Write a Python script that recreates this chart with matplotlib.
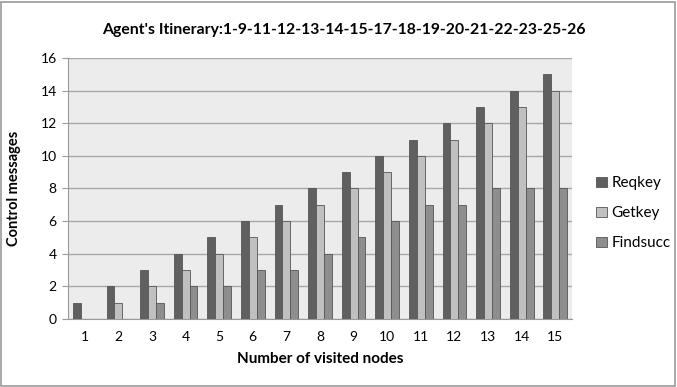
import matplotlib
matplotlib.use("Agg")
import matplotlib.pyplot as plt
import numpy as np
from matplotlib.patches import Rectangle

plt.rcParams['font.family'] = ['Lato', 'DejaVu Sans']

nodes = list(range(1, 16))
reqkey = [1, 2, 3, 4, 5, 6, 7, 8, 9, 10, 11, 12, 13, 14, 15]
getkey = [0, 1, 2, 3, 4, 5, 6, 7, 8, 9, 10, 11, 12, 13, 14]
findsucc = [0, 0, 1, 2, 2, 3, 3, 4, 5, 6, 7, 7, 8, 8, 8]
series_names = ["Reqkey", "Getkey", "Findsucc"]
colors = ["#606060", "#c0c0c0", "#8e8e8e"]

fig = plt.figure(figsize=(6.77, 3.87), dpi=100)
ax = fig.add_axes([0.1004, 0.176, 0.7446, 0.674])
ax.set_facecolor("#ececec")

x = np.arange(len(nodes))
w = 0.235
for i, (vals, name, c) in enumerate(zip([reqkey, getkey, findsucc], series_names, colors)):
    ax.bar(x + (i - 1) * w, vals, width=w, color=c, edgecolor="#555555",
           linewidth=0.6, label=name, zorder=3)

ax.set_xlim(-0.5, len(nodes) - 0.5)
ax.set_ylim(0, 16)
ax.set_yticks(range(0, 17, 2))
ax.set_xticks(x)
ax.set_xticklabels([str(n) for n in nodes])
ax.yaxis.grid(True, color="#a8a8a8", linewidth=1.0, zorder=0)
ax.set_axisbelow(True)
for s in ["top", "right"]:
    ax.spines[s].set_visible(False)
ax.spines["left"].set_color("#9a9a9a")
ax.spines["bottom"].set_color("#9a9a9a")
ax.tick_params(axis="y", length=4, color="#9a9a9a", labelsize=10, pad=4)
ax.tick_params(axis="x", length=0, labelsize=10, pad=9)

ax.set_xlabel("Number of visited nodes", fontsize=11, fontweight="bold", labelpad=6)
ax.set_ylabel("Control messages", fontsize=10.5, fontweight="bold", labelpad=14)
fig.text(0.508, 0.922, "Agent's Itinerary:1-9-11-12-13-14-15-17-18-19-20-21-22-23-25-26",
         ha="center", va="center", fontsize=11.3, fontweight="bold")

leg = ax.legend(loc="center left", bbox_to_anchor=(1.02, 0.405), frameon=False,
                fontsize=11, handlelength=0.7, handleheight=0.7,
                handletextpad=0.3, labelspacing=1.05)

fig.patches.append(Rectangle((0.002, 0.003), 0.995, 0.993, transform=fig.transFigure,
                             fill=False, edgecolor="#9a9a9a", linewidth=1.2))

fig.savefig("out.png", dpi=100)
